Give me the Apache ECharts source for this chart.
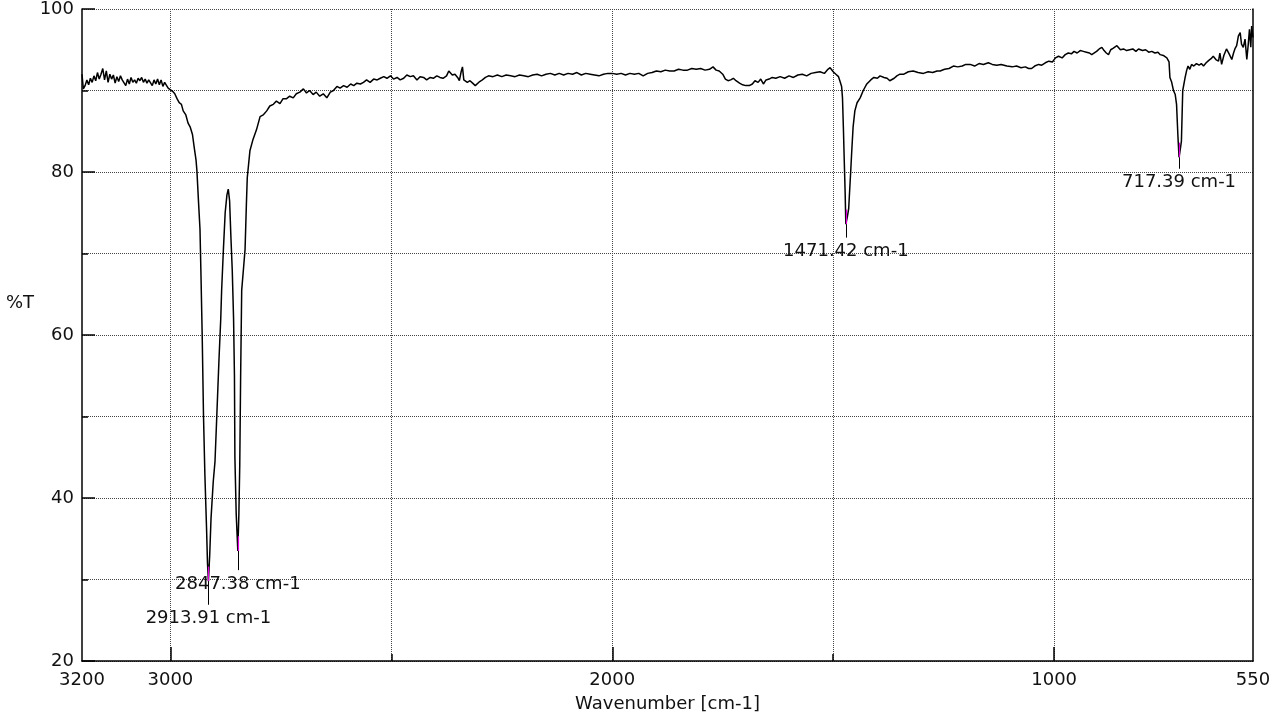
<!DOCTYPE html>
<html>
<head>
<meta charset="utf-8">
<script src="https://cdn.jsdelivr.net/npm/echarts@6/dist/echarts.min.js"></script>
<style>
html,body{margin:0;padding:0;background:#fff;}
#chart{width:1280px;height:720px;}
</style>
</head>
<body>
<div id="chart"></div>
<script>
// ---- Data ----
const wavenumber = [
3200,3197,3193,3189,3185,3181,3177,3173,3169,3165,3161,3157,3153,3149,3145,3141,3137,3133,3129,3125,
3121,3117,3113,3109,3105,3101,3097,3093,3089,3085,3081,3077,3073,3069,3065,3061,3057,3053,3049,3045,
3041,3037,3033,3029,3025,3021,3017,3013,3009,3005,3001,2995,2990,2985,2980,2975,2971,2965,2960,2955,
2950,2946,2942,2940,2936,2933,2931,2928,2925,2922,2918,2916,2913.91,2911,2908,2903,2899,2895,2890,2886,
2884,2880,2876,2872,2869,2866,2863,2860,2857,2855,2854,2851,2847.38,2845,2843,2841,2838.6,2834,2831,2828,
2826,2820,2813,2805,2797,2790,2782,2775,2767,2760,2752,2745,2737,2730,2722,2715,2707,2699,2692,2685,
2677,2670,2662,2654,2646,2638,2631,2623,2616,2608,2600,2592,2585,2578,2570,2563,2556,2548,2540,2532,
2525,2517,2510,2502,2495,2487,2480,2472,2465,2457,2450,2442,2435,2427,2420,2412,2405,2397,2390,2383,
2375,2370,2366,2362,2356,2350,2346,2342,2339,2336,2332,2328,2322,2316,2310,2306,2300,2294,2287,2280,
2270,2260,2250,2240,2230,2220,2210,2200,2190,2180,2170,2160,2150,2140,2130,2120,2110,2100,2090,2080,
2070,2060,2050,2040,2030,2020,2010,2000,1990,1980,1970,1960,1950,1940,1930,1920,1910,1900,1890,1880,
1870,1860,1850,1840,1830,1820,1810,1800,1790,1780,1772,1765,1758,1750,1744,1738,1732,1726,1720,1712,
1705,1698,1690,1683,1677,1670,1664,1658,1652,1645,1638,1630,1620,1610,1600,1590,1580,1570,1560,1550,
1540,1530,1520,1512,1507,1500,1494,1488,1485,1481,1479,1477,1475,1473,1471.42,1468,1465,1463.6,1460,1458,
1455,1451,1446,1439,1432,1424,1415,1408,1400,1394,1385,1378,1372,1368,1362,1356,1349,1340,1330,1319,
1308,1296,1285,1275,1265,1258,1248,1238,1228,1218,1208,1200,1190,1180,1170,1160,1149,1140,1130,1120,
1107,1095,1085,1075,1065,1058,1051,1044,1035,1028,1020,1012,1004,997,990,982,975,968,961,955,
948,941,934,927,920,915,911,904,898,892,887,882,877,872,866,858,850,843,836,829,
822,815,809,806,800,793,786,779,772,765,760,753,745,740,738,734,730,726,723,720,
717.39,714,712,709,704,700,697,693,689,684,678,672,667,662,656,650,645,640,634,628,
625,621,616,610,604,598,594,591,587,583,579,576,572,568,564,561,558,555,553,550
];
const transmittance = [
92.0,90.2,90.6,91.3,90.7,91.5,91.0,91.8,91.2,92.2,91.4,92.0,92.7,91.3,92.4,91.0,92.0,91.4,91.9,90.9,
91.7,91.1,91.8,91.3,91.5,90.6,91.4,90.8,91.6,91.0,91.3,90.9,91.5,91.2,91.6,91.0,91.4,90.9,91.3,91.1,
90.6,91.3,90.8,91.4,90.7,91.3,90.5,91.0,90.8,90.3,90.2,89.9,89.6,89.0,88.5,88.3,87.5,87.0,86.0,85.5,
84.6,83.0,81.5,80.2,76.0,73.0,68.0,60.0,50.0,43.0,36.0,32.0,29.8,33.0,37.5,42.0,44.5,50.0,57.0,62.0,
65.5,70.5,75.0,77.2,77.9,76.5,72.0,68.0,62.0,55.0,45.0,38.0,33.5,38.0,44.0,55.0,65.5,68.5,70.5,76.0,
79.3,82.6,84.0,85.2,86.8,87.0,87.5,88.1,88.3,88.7,88.4,89.0,89.0,89.3,89.1,89.6,89.8,90.2,89.7,90.0,
89.5,89.8,89.3,89.6,89.1,89.8,90.0,90.5,90.3,90.6,90.4,90.8,90.6,90.9,90.8,91.0,91.3,91.0,91.4,91.3,
91.5,91.7,91.5,91.8,91.4,91.6,91.3,91.5,91.9,91.7,91.8,91.3,91.7,91.6,91.3,91.6,91.5,91.8,91.6,91.5,
91.8,92.4,92.5,91.9,92.0,91.6,91.2,92.3,92.9,91.3,91.5,91.0,91.2,90.9,90.6,90.8,91.1,91.3,91.6,91.8,
91.7,91.9,91.7,91.9,91.8,91.7,91.9,91.8,91.7,91.9,92.0,91.8,92.0,92.1,91.9,92.1,91.9,92.1,92.0,92.2,
91.9,92.1,92.0,91.9,91.8,92.0,92.1,92.1,92.0,92.1,91.9,92.1,92.0,92.1,91.8,92.1,92.2,92.4,92.3,92.5,
92.4,92.4,92.6,92.5,92.5,92.7,92.6,92.7,92.5,92.6,92.9,92.5,92.4,92.0,91.4,91.2,91.3,91.5,91.2,90.9,
90.7,90.6,90.6,90.8,91.2,91.0,91.4,90.8,91.3,91.4,91.6,91.5,91.7,91.5,91.8,91.6,91.9,92.0,91.8,92.1,
92.2,92.3,92.1,92.6,92.8,92.3,92.0,91.7,91.2,90.5,89.1,85.5,81.4,77.5,73.6,74.5,75.5,76.9,80.5,82.6,
85.5,87.5,88.5,89.1,90.0,90.8,91.3,91.6,91.5,91.8,91.6,91.5,91.2,91.0,91.5,91.8,92.0,92.0,92.3,92.4,
92.2,92.1,92.3,92.2,92.4,92.4,92.6,92.7,93.0,92.9,93.0,93.2,93.2,93.0,93.3,93.2,93.4,93.2,93.1,93.2,
93.0,92.9,93.0,92.8,92.9,92.7,92.7,93.0,93.2,93.1,93.4,93.6,93.5,94.0,94.2,94.0,94.4,94.6,94.5,94.8,
94.6,94.9,94.8,94.7,94.6,94.4,94.3,94.8,95.1,95.3,94.9,94.6,94.4,95.0,95.2,95.5,95.0,95.1,94.9,95.0,
95.1,94.8,95.1,95.2,94.9,95.0,94.7,94.8,94.6,94.7,94.4,94.3,94.0,93.5,91.6,91.0,90.0,89.5,88.3,84.5,
81.8,83.0,83.8,90.0,91.5,92.5,93.0,92.6,93.2,93.0,93.3,93.1,93.3,93.0,93.4,93.7,93.9,94.2,93.8,93.6,
94.6,93.2,94.3,95.1,94.5,93.8,94.6,95.1,95.5,96.7,97.1,95.7,95.3,96.3,93.8,95.5,97.5,95.3,97.9,96.5
];
// Peak annotations
const peakWn = [2913.91, 2847.38, 1471.42, 717.39];
const peakT = [29.8, 33.5, 73.6, 81.8];
const peakPointerT = [26.9, 31.15, 71.95, 80.4];
// Axis ticks / labels
const xLabelValues = [3200, 3000, 2000, 1000, 550];
const xMajorTicks = [3000, 2000, 1000];
const xMinorTicks = [2500, 1500];
const xMin = 550, xMax = 3200;
const yMin = 20, yMax = 100;

const FONT = 'DejaVu Sans';
const points = wavenumber.map((w, i) => [w, transmittance[i]]);

const markLines = [];
peakWn.forEach((w, i) => {
  markLines.push([
    {coord: [w, peakT[i] + 1.8], lineStyle: {color: '#e000e0', width: 1.2, type: 'solid'}, label: {show: false}},
    {coord: [w, peakT[i]]}
  ]);
  markLines.push([
    {coord: [w, peakT[i]], lineStyle: {color: '#000', width: 1, type: 'solid'},
     label: {show: true, position: 'end', distance: 5, formatter: w.toFixed(2) + ' cm-1',
             color: '#111', fontFamily: FONT, fontSize: 18}},
    {coord: [w, peakPointerT[i]]}
  ]);
});

const gridStyle = {show: true, lineStyle: {color: '#444', width: 1, type: [1, 1]}};

const chart = echarts.init(document.getElementById('chart'), null, {renderer: 'canvas'});
chart.setOption({
  animation: false,
  backgroundColor: '#fff',
  grid: {left: 82, right: 27, top: 8, bottom: 59, containLabel: false},
  graphic: [{type: 'text', left: 6, top: 294, style: {text: '%T', fontFamily: FONT, fontSize: 18, fill: '#111'}}],
  xAxis: [
    {
      type: 'value', position: 'bottom', min: xMin, max: xMax, inverse: true,
      axisLine: {show: true, lineStyle: {color: '#000', width: 1.5}},
      axisTick: {show: true, inside: true, length: 14, customValues: xMajorTicks, lineStyle: {color: '#000', width: 1.5}},
      axisLabel: {show: true, customValues: xLabelValues, margin: 10, color: '#111', fontFamily: FONT, fontSize: 18,
                  formatter: v => String(v)},
      splitLine: gridStyle,
      name: 'Wavenumber [cm-1]', nameLocation: 'middle', nameGap: 34,
      nameTextStyle: {color: '#111', fontFamily: FONT, fontSize: 18}
    },
    {
      type: 'value', position: 'bottom', min: xMin, max: xMax, inverse: true,
      axisLine: {show: false},
      axisTick: {show: true, inside: true, length: 7, customValues: xMinorTicks, lineStyle: {color: '#000', width: 1.5}},
      axisLabel: {show: false},
      splitLine: gridStyle
    }
  ],
  yAxis: [
    {
      type: 'value', position: 'left', min: yMin, max: yMax, interval: 10,
      axisLine: {show: true, lineStyle: {color: '#000', width: 1.5}},
      axisTick: {show: true, inside: true, length: 6, lineStyle: {color: '#000', width: 1.5}},
      axisLabel: {show: true, margin: 8, color: '#111', fontFamily: FONT, fontSize: 18,
                  formatter: v => (v % 20 === 0 ? String(v) : '')},
      splitLine: gridStyle
    },
    {
      type: 'value', position: 'left', min: yMin, max: yMax, interval: 20,
      axisLine: {show: false},
      axisTick: {show: true, inside: true, length: 13, lineStyle: {color: '#000', width: 1.5}},
      axisLabel: {show: false},
      splitLine: {show: false}
    },
    {
      type: 'value', position: 'right', min: yMin, max: yMax, interval: 10,
      axisLine: {show: true, lineStyle: {color: '#000', width: 1.5}},
      axisTick: {show: false}, axisLabel: {show: false}, splitLine: {show: false}
    }
  ],
  series: [{
    type: 'line', xAxisIndex: 0, yAxisIndex: 0,
    data: points, showSymbol: false, symbol: 'none',
    lineStyle: {color: '#000', width: 1.5},
    markLine: {silent: true, symbol: ['none', 'none'], animation: false, data: markLines}
  }]
});
</script>
</body>
</html>
